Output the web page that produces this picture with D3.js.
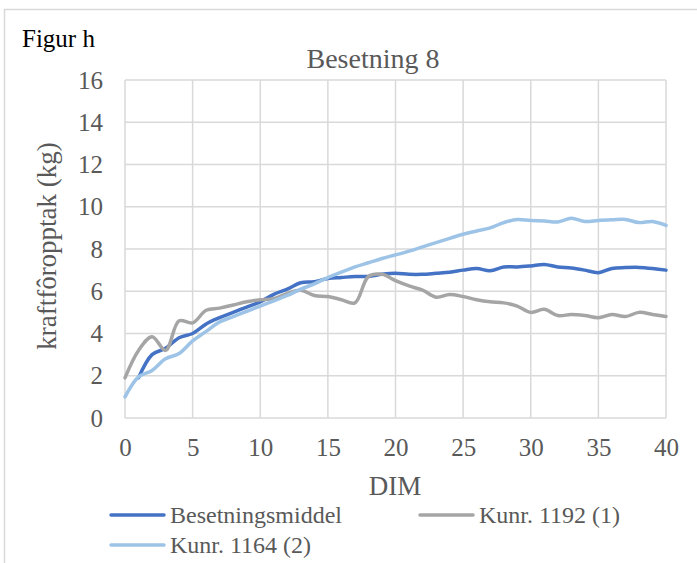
<!DOCTYPE html>
<html>
<head>
<meta charset="utf-8">
<script src="https://cdn.jsdelivr.net/npm/d3@7"></script>
<style>
  body { margin: 0; background: #fff; }
  svg text { font-family: "Liberation Serif", "Times New Roman", serif; }
</style>
</head>
<body>
<div id="chart"></div>
<script>
// DIM values (days in milk)
var dim = d3.range(0, 41);

// series values, one per DIM; null = no value
var besetningsmiddel = [null, 1.9, 3.0, 3.3, 3.8, 4.0, 4.45, 4.75, 5.0, 5.25, 5.5,
  5.85, 6.1, 6.4, 6.45, 6.6, 6.65, 6.7, 6.7, 6.8, 6.85,
  6.8, 6.8, 6.85, 6.9, 7.0, 7.08, 6.97, 7.15, 7.15, 7.2,
  7.27, 7.15, 7.1, 7.0, 6.88, 7.08, 7.12, 7.13, 7.08, 7.0];
var kunr1192 = [1.9, 3.2, 3.85, 3.2, 4.6, 4.5, 5.1, 5.2, 5.35, 5.5, 5.6,
  5.65, 5.9, 6.05, 5.8, 5.75, 5.6, 5.45, 6.7, 6.8, 6.5,
  6.25, 6.05, 5.72, 5.85, 5.75, 5.6, 5.5, 5.45, 5.3, 5.0,
  5.15, 4.85, 4.9, 4.85, 4.75, 4.9, 4.8, 5.0, 4.9, 4.8];
var kunr1164 = [1.0, 1.95, 2.25, 2.8, 3.05, 3.65, 4.1, 4.55, 4.8, 5.05, 5.3,
  5.55, 5.8, 6.1, 6.35, 6.65, 6.9, 7.15, 7.35, 7.55, 7.72,
  7.9, 8.1, 8.3, 8.5, 8.7, 8.85, 9.0, 9.25, 9.4, 9.35,
  9.33, 9.28, 9.45, 9.3, 9.35, 9.38, 9.4, 9.25, 9.3, 9.12];

var xTicks = [0, 5, 10, 15, 20, 25, 30, 35, 40];
var yTicks = [0, 2, 4, 6, 8, 10, 12, 14, 16];

var seriesNames = ["Besetningsmiddel", "Kunr. 1192 (1)", "Kunr. 1164 (2)"];
var seriesColors = ["#4472C4", "#A5A5A5", "#9DC3E6"];
var seriesValues = [besetningsmiddel, kunr1192, kunr1164];

var svgWidth = 697, svgHeight = 563;
var margin = { top: 80, right: 31, bottom: 145, left: 125 };
var width = svgWidth - margin.left - margin.right;
var height = svgHeight - margin.top - margin.bottom;
var serif = "'Liberation Serif', 'Times New Roman', serif";

var svg = d3.select("#chart").append("svg")
  .attr("width", svgWidth)
  .attr("height", svgHeight);

// outer chart border
svg.append("rect")
  .attr("x", 4.5).attr("y", 9.5)
  .attr("width", 720).attr("height", 600)
  .attr("fill", "none")
  .attr("stroke", "#d9d9d9")
  .attr("stroke-width", 1.5);

svg.append("text")
  .attr("x", 22).attr("y", 47)
  .style("font-size", "25px")
  .attr("fill", "#000")
  .text("Figur h");

svg.append("text")
  .attr("x", 373).attr("y", 68)
  .attr("text-anchor", "middle")
  .style("font-size", "28px")
  .attr("fill", "#595959")
  .text("Besetning 8");

var chartGroup = svg.append("g")
  .attr("transform", `translate(${margin.left}, ${margin.top})`);

var x = d3.scaleLinear().domain([0, 40]).range([0, width]);
var y = d3.scaleLinear().domain([0, 16]).range([height, 0]);

// gridlines
chartGroup.append("g")
  .selectAll("line")
  .data(yTicks)
  .enter().append("line")
  .attr("x1", 0).attr("x2", width)
  .attr("y1", d => y(d)).attr("y2", d => y(d))
  .attr("stroke", "#d9d9d9").attr("stroke-width", 1.5);

chartGroup.append("g")
  .selectAll("line")
  .data(xTicks)
  .enter().append("line")
  .attr("x1", d => x(d)).attr("x2", d => x(d))
  .attr("y1", 0).attr("y2", height)
  .attr("stroke", "#d9d9d9").attr("stroke-width", 1.5);

// axes (labels only)
var xAxis = d3.axisBottom(x).tickValues(xTicks).tickSize(0).tickPadding(20);
var yAxis = d3.axisLeft(y).tickValues(yTicks).tickSize(0).tickPadding(22);

var gx = chartGroup.append("g")
  .attr("transform", `translate(0, ${height})`)
  .call(xAxis);
var gy = chartGroup.append("g").call(yAxis);

[gx, gy].forEach(function(g) {
  g.attr("font-family", null).attr("font-size", null);
  g.select(".domain").remove();
  g.selectAll("text")
    .style("font-family", serif)
    .style("font-size", "25px")
    .attr("fill", "#595959");
});

// axis titles
svg.append("text")
  .attr("x", 395).attr("y", 495)
  .attr("text-anchor", "middle")
  .style("font-size", "27px")
  .attr("fill", "#595959")
  .text("DIM");

svg.append("text")
  .attr("transform", "translate(56, 246) rotate(-90)")
  .attr("text-anchor", "middle")
  .style("font-size", "27px")
  .attr("fill", "#595959")
  .text("kraftfôropptak (kg)");

// lines
var line = d3.line()
  .defined(d => d.v !== null)
  .x(d => x(d.d))
  .y(d => y(d.v))
  .curve(d3.curveCatmullRom.alpha(0.5));

seriesValues.forEach(function(vals, i) {
  var pts = dim.map((d, j) => ({ d: d, v: vals[j] }));
  chartGroup.append("path")
    .datum(pts)
    .attr("d", line)
    .attr("fill", "none")
    .attr("stroke", seriesColors[i])
    .attr("stroke-width", 3.5)
    .attr("stroke-linejoin", "round")
    .attr("stroke-linecap", "round");
});

// legend
var legendPos = [[111, 515], [420, 515], [111, 545]];
seriesNames.forEach(function(name, i) {
  var g = svg.append("g")
    .attr("transform", `translate(${legendPos[i][0]}, ${legendPos[i][1]})`);
  g.append("line")
    .attr("x1", 0).attr("x2", 53)
    .attr("y1", 0).attr("y2", 0)
    .attr("stroke", seriesColors[i])
    .attr("stroke-width", 3.5)
    .attr("stroke-linecap", "round");
  g.append("text")
    .attr("x", 59).attr("y", 0)
    .attr("dy", "0.33em")
    .style("font-size", "24px")
    .attr("fill", "#595959")
    .text(name);
});
</script>
</body>
</html>
